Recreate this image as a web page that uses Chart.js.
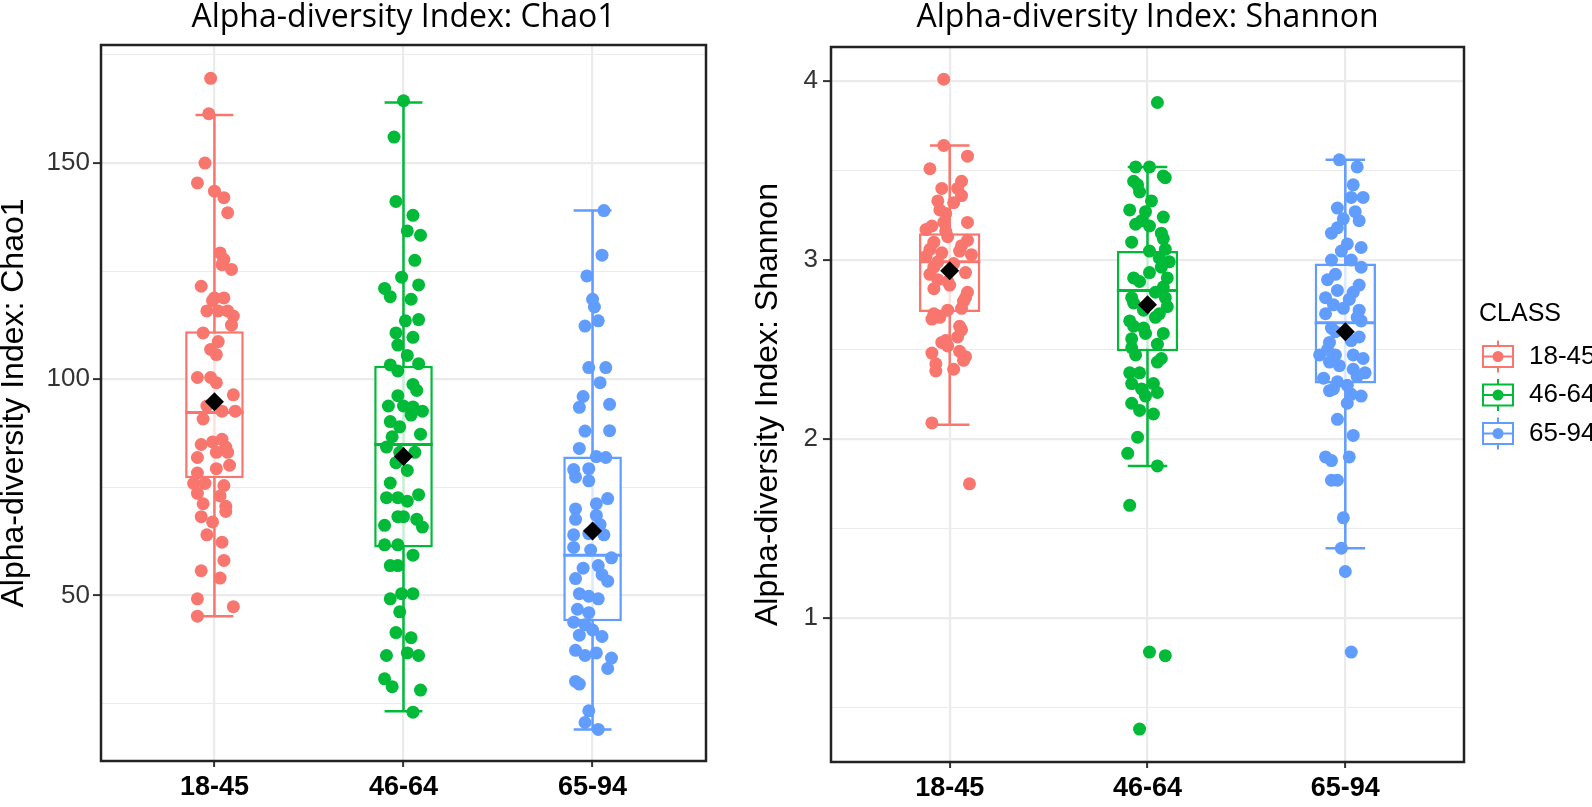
<!DOCTYPE html>
<html>
<head>
<meta charset="utf-8">
<script src="https://cdn.jsdelivr.net/npm/chart.js@4.4.1/dist/chart.umd.min.js"></script>
<style>
  html, body { margin: 0; padding: 0; background: #fff; }
  #wrap { position: relative; width: 1592px; height: 807px; overflow: hidden; }
  .panel { position: absolute; top: 0; height: 807px; }
</style>
</head>
<body>
<div id="wrap">
  <div class="panel" style="left:0;width:720px"><canvas id="chao"></canvas></div>
  <div class="panel" style="left:720px;width:872px"><canvas id="shannon"></canvas></div>
</div>
<script>
const groups = ['18-45', '46-64', '65-94']
const colors = ['#F8766D', '#00BA38', '#619CFF']

// Chao1 -- jittered samples (value + horizontal jitter in category units)
const chao1845 = [169.6,161.4,150,145.4,143.5,142,138.5,129.2,127.7,126.5,125.4,121.5,118.8,118.8,118.2,115.8,115.8,114.6,115.8,112.5,110.7,108.7,106.9,105.7,100.4,100.4,99.2,96.4,93.8,92.6,90.8,92.6,84.9,85.5,86.1,84.3,81.9,83.1,83.1,78.3,79.3,80.1,75.9,75.9,75.4,73.6,73,71.2,70.6,68.2,67,69.4,64,62.3,58.1,55.7,54,49.2,47.4,45.2]
const chaoJit1845 = [-0.02,-0.03,-0.05,-0.09,0,0.05,0.07,0.03,0.05,0.04,0.09,-0.07,0,0.05,-0.01,-0.04,0.07,0.1,0.02,0.09,-0.06,0.02,-0.02,0.01,-0.09,-0.02,0.01,0.1,-0.04,0.04,-0.06,0.11,-0.07,-0.01,0.04,0.06,-0.09,0.01,0.07,-0.09,0.01,0.08,-0.11,-0.05,0.05,-0.09,0.03,-0.06,0.06,-0.07,-0.01,0.06,-0.04,0.04,0.05,-0.07,0.03,-0.09,0.1,-0.09]
const chao4664 = [164.4,156,141.1,137.9,134.3,133.3,127.5,123.6,121.8,121,119.1,118.5,110.7,113.5,113.8,109.7,107.9,105.5,103.3,101.9,103.6,98.8,97.4,96.2,93.8,93.8,93.6,92.6,90.2,89,91.7,87.3,86.7,84.3,83.1,83.1,80.7,78.9,76,73.3,72.6,72.6,71.8,68.2,66.2,68.2,67.6,65.8,61.7,61.7,59.3,56.9,56.9,49.2,50.4,50.4,46.2,41.4,40.2,36.1,36.7,36.1,30.7,28.9,28.1,23]
const chaoJit4664 = [0,-0.05,-0.04,0.05,0.02,0.09,0.06,-0.01,0.08,-0.1,-0.07,0.04,-0.04,0.01,0.08,0.05,-0.03,0.02,-0.07,-0.03,0.08,0.05,0.07,-0.03,-0.08,0,0.05,0.1,-0.07,-0.02,0.04,0.09,-0.06,-0.09,-0.02,0.06,-0.04,0.02,-0.07,0.08,-0.09,-0.03,0.02,-0.03,-0.1,0,0.07,0.1,-0.1,-0.03,0.05,-0.07,-0.03,-0.07,-0.01,0.05,-0.02,-0.04,0.04,-0.09,0.02,0.08,-0.1,-0.06,0.09,0.05]
const chao6594 = [139,128.7,123.9,118.5,116.7,112.3,113.5,102.7,102.7,99.2,96,93.5,94.2,88,88.1,84,82.1,81.9,79.1,79.3,76.5,77.4,71.2,72.4,70,67.6,68.5,66.4,64,64.3,64,61.1,60.5,58.7,56.9,56.3,54.8,53.9,53.3,50.4,49.8,49.2,46.8,46,43.8,43.2,42,40.8,40.5,37.3,36.1,36.7,35.5,33.1,30.1,29.5,23.3,20.6,19]
const chaoJit6594 = [0.06,0.05,-0.03,0,0.01,-0.04,0.03,-0.02,0.07,0.04,-0.05,-0.07,0.09,-0.04,0.09,-0.07,0.02,0.07,-0.1,-0.02,-0.02,-0.09,0.02,0.08,-0.09,-0.09,0.02,0.04,-0.1,-0.02,0.06,-0.1,-0.01,0.1,0.03,-0.05,0.05,-0.09,0.08,-0.07,-0.02,0.03,-0.08,-0.02,-0.1,-0.04,0,-0.07,0.05,-0.09,-0.04,0.02,0.1,0.08,-0.09,-0.07,-0.02,-0.04,0.03]

// Chao1 -- box statistics per group
const chaoLow = [45.2, 23.2, 19]
const chaoQ1 = [77.1, 61.1, 44]
const chaoMedian = [92.3, 84.9, 59.3]
const chaoQ3 = [111.1, 103.1, 82.1]
const chaoHigh = [161.1, 164, 139]
const chaoMean = [94.8, 82.1, 64.9]
const chaoTicks = [25, 50, 75, 100, 125, 150, 175]

// Shannon -- jittered samples
const shan1845 = [4.01,3.64,3.58,3.51,3.40,3.40,3.44,3.28,3.32,3.19,3.21,3.21,3.10,3.13,3.11,3.06,3.04,3.05,2.96,2.98,2.93,2.89,2.88,2.82,2.79,2.70,2.72,2.73,2.67,2.63,2.57,2.54,2.48,2.52,2.49,2.44,2.42,2.39,2.09,1.75,3.17,3.16,3.08,3.02,2.99,3.03,2.92,2.86,2.84,2.77,2.68,2.61,2.55,2.46,2.38,3.36,3.26,3.33]
const shanJit1845 = [-0.03,-0.03,0.09,-0.1,-0.04,0.04,0.06,-0.05,0.02,-0.09,-0.03,0.09,-0.08,-0.01,0.09,-0.1,-0.04,0.05,-0.08,0.02,0.08,-0.06,-0.01,0.09,0.08,-0.08,-0.01,0.06,-0.09,0.05,0.04,-0.04,-0.09,-0.01,0.05,0.07,-0.07,0.02,-0.09,0.1,-0.12,-0.02,0.06,-0.12,-0.06,0.11,-0.1,0,-0.08,0.07,-0.05,0.06,-0.02,0.08,-0.07,0.06,-0.02,-0.06]
const shan4664 = [3.88,3.52,3.52,3.47,3.46,3.44,3.38,3.28,3.27,3.24,3.20,3.19,3.15,3.10,3.12,3.05,3.01,2.99,2.90,2.93,2.90,2.85,2.79,2.79,2.72,2.70,2.66,2.63,2.59,2.59,2.56,2.53,2.47,2.43,2.37,2.37,2.31,2.31,2.24,2.20,2.16,2.14,2.01,1.92,1.85,1.63,0.81,0.79,0.38,3.42,3.33,3.22,3.06,2.96,2.88,2.82,2.76,2.74,2.68,2.62,2.51,2.45,2.28,2.26]
const shanJit4664 = [0.05,-0.06,0.01,0.08,0.09,-0.07,-0.04,-0.09,-0.01,0.08,-0.06,0.01,0.07,-0.08,0.08,0.01,0.06,0.11,-0.07,0.01,0.1,0.08,-0.08,0.09,-0.02,0.06,-0.09,-0.07,0.08,-0.01,-0.08,0.05,-0.06,0.05,-0.09,-0.04,0.03,-0.08,-0.01,-0.08,-0.04,0.03,-0.05,-0.1,0.05,-0.09,0.01,0.09,-0.04,-0.05,0.02,-0.03,0.09,0.07,-0.04,0.04,-0.07,0.1,0.04,-0.02,-0.08,0.07,-0.03,0.05]
const shan6594 = [3.56,3.52,3.42,3.35,3.35,3.29,3.23,3.22,3.15,3.09,3.07,3.00,3.00,2.96,2.89,2.83,2.82,2.79,2.75,2.73,2.72,2.66,2.62,2.57,2.54,2.47,2.47,2.47,2.43,2.39,2.37,2.34,2.32,2.30,2.27,2.24,2.20,2.11,2.02,1.90,1.88,1.90,1.77,1.77,1.56,1.39,1.26,0.81,3.05,2.92,2.86,2.78,2.70,2.68,2.60,2.55,2.50,2.45,2.41,2.35,2.28,2.25,3.18,3.27]
const shanJit6594 = [-0.03,0.06,0.04,0.09,0.03,-0.04,-0.01,0.07,-0.07,0.01,0.08,-0.07,0.03,0.08,-0.09,-0.04,0.04,-0.1,-0.06,-0.01,0.07,0.08,-0.07,0.07,-0.08,-0.13,-0.05,0.04,-0.08,0.04,0.1,-0.11,-0.04,0.01,-0.08,0.08,0.01,-0.04,0.04,-0.1,-0.07,0.02,-0.07,-0.04,-0.01,-0.02,0,0.03,-0.02,-0.05,0.07,0.02,-0.1,0.06,-0.05,0.03,-0.09,0.09,-0.03,0.06,-0.06,0.03,-0.04,0.05]

// Shannon -- box statistics per group
const shanLow = [2.08, 1.85, 1.39]
const shanQ1 = [2.71, 2.49, 2.31]
const shanMedian = [2.99, 2.83, 2.65]
const shanQ3 = [3.15, 3.05, 2.98]
const shanHigh = [3.64, 3.52, 3.56]
const shanMean = [2.94, 2.75, 2.60]
const shanTicks = [0.5, 1, 1.5, 2, 2.5, 3, 3.5, 4]

const BOX_W = 0.31
const CAP_W = 0.2

// panel frame (theme_bw border)
const frame = {
  id: 'frame',
  afterDraw(chart) {
    const { ctx, chartArea: a } = chart
    ctx.save()
    ctx.strokeStyle = '#222'
    ctx.lineWidth = 2.5
    ctx.strokeRect(a.left, a.top, a.right - a.left, a.bottom - a.top)
    ctx.restore()
  },
}

// ggplot-like legend with boxplot keys
const classLegend = {
  id: 'classLegend',
  afterDraw(chart) {
    const { ctx, chartArea: a } = chart
    ctx.save()
    ctx.textBaseline = 'middle'
    ctx.fillStyle = '#000'
    ctx.font = '25px "Liberation Sans"'
    ctx.fillText('CLASS', a.right + 15, a.top + 267)
    groups.forEach((g, i) => {
      const cx = a.right + 34
      const cy = a.top + 309.5 + i * 38.5
      ctx.strokeStyle = colors[i]
      ctx.lineWidth = 2
      ctx.beginPath()
      ctx.moveTo(cx, cy - 16)
      ctx.lineTo(cx, cy + 16)
      ctx.stroke()
      ctx.fillStyle = '#fff'
      ctx.fillRect(cx - 15, cy - 10.5, 30, 21)
      ctx.strokeRect(cx - 15, cy - 10.5, 30, 21)
      ctx.beginPath()
      ctx.moveTo(cx - 15, cy)
      ctx.lineTo(cx + 15, cy)
      ctx.stroke()
      ctx.fillStyle = colors[i]
      ctx.beginPath()
      ctx.arc(cx, cy, 5.5, 0, Math.PI * 2)
      ctx.fill()
      ctx.fillStyle = '#000'
      ctx.font = '26px "Liberation Sans"'
      ctx.fillText(g, a.right + 65, cy)
    })
    ctx.restore()
  },
}

function boxplotChart(id, cfg) {
  const datasets = []
  groups.forEach((g, i) => {
    const c = i + 1
    // errorbar whiskers (drawn through the box)
    datasets.push({
      type: 'line',
      order: 4,
      data: [
        { x: c - CAP_W / 2, y: cfg.high[i] }, { x: c + CAP_W / 2, y: cfg.high[i] }, { x: c, y: null },
        { x: c, y: cfg.high[i] }, { x: c, y: cfg.low[i] }, { x: c, y: null },
        { x: c - CAP_W / 2, y: cfg.low[i] }, { x: c + CAP_W / 2, y: cfg.low[i] },
      ],
      borderColor: colors[i],
      borderWidth: 2.5,
      pointRadius: 0,
      spanGaps: false,
      fill: false,
    })
    // median
    datasets.push({
      type: 'line',
      order: 2,
      data: [{ x: c - BOX_W / 2, y: cfg.median[i] }, { x: c + BOX_W / 2, y: cfg.median[i] }],
      borderColor: colors[i],
      borderWidth: 3,
      pointRadius: 0,
      fill: false,
    })
    // jittered samples
    datasets.push({
      type: 'scatter',
      order: 1,
      data: cfg.values[i].map((v, k) => ({ x: c + cfg.jitter[i][k], y: v })),
      backgroundColor: colors[i],
      borderWidth: 0,
      pointRadius: 6.5,
      pointHoverRadius: 6.5,
    })
  })
  // boxes
  datasets.push({
    type: 'bar',
    order: 3,
    data: groups.map((g, i) => ({ x: i + 1, y: [cfg.q1[i], cfg.q3[i]] })),
    backgroundColor: 'rgba(255,255,255,0.78)',
    borderColor: colors,
    borderWidth: 2.5,
    borderSkipped: false,
    barPercentage: BOX_W,
    categoryPercentage: 1,
  })
  // means
  datasets.push({
    type: 'scatter',
    order: 0,
    data: groups.map((g, i) => ({ x: i + 1, y: cfg.mean[i] })),
    pointStyle: 'rectRot',
    pointRadius: 9.5,
    pointHoverRadius: 9.5,
    backgroundColor: '#000',
    borderWidth: 0,
  })

  const isMajor = v => cfg.major.includes(v)

  return new Chart(document.getElementById(id), {
    type: 'scatter',
    data: { datasets },
    options: {
      responsive: true,
      maintainAspectRatio: false,
      animation: false,
      events: [],
      layout: { padding: { left: 0, right: cfg.padRight, top: 0, bottom: 0 } },
      plugins: {
        legend: { display: false },
        tooltip: { enabled: false },
        title: {
          display: true,
          text: cfg.title,
          fullSize: false,
          color: '#000',
          font: { family: 'Open Sans', size: 32, weight: 'normal', lineHeight: 1.1 },
          padding: { top: 0, bottom: cfg.titlePad },
        },
      },
      scales: {
        x: {
          type: 'linear',
          min: 0.4,
          max: 3.6,
          offset: false,
          afterBuildTicks: ax => { ax.ticks = groups.map((g, i) => ({ value: i + 1 })) },
          afterFit: ax => { ax.height = cfg.xHeight },
          ticks: {
            callback: (v, i) => groups[i],
            color: '#000',
            font: { family: 'Liberation Sans', size: 27, weight: 'bold' },
            padding: 4,
            maxRotation: 0,
            autoSkip: false,
          },
          grid: { offset: false, color: '#ebebeb', lineWidth: 2.2, tickLength: 6, tickColor: '#333', tickWidth: 2 },
          border: { display: false },
        },
        y: {
          min: cfg.yMin,
          max: cfg.yMax,
          afterBuildTicks: ax => { ax.ticks = cfg.ticks.map(v => ({ value: v })) },
          afterFit: ax => { ax.width = cfg.yWidth },
          ticks: {
            callback: v => (isMajor(v) ? String(v) : ''),
            color: '#333',
            font: { family: 'Liberation Sans', size: 26 },
            padding: cfg.tickPad,
          },
          grid: {
            offset: false,
            color: '#ebebeb',
            lineWidth: c => (isMajor(c.tick.value) ? 2.2 : 1.1),
            tickLength: 8,
            tickWidth: 2,
            tickColor: c => (isMajor(c.tick.value) ? '#333' : 'rgba(0,0,0,0)'),
          },
          border: { display: false },
          title: {
            display: true,
            text: cfg.yTitle,
            color: '#000',
            font: { family: 'Liberation Sans', size: 32, lineHeight: 0.88 },
            padding: { top: cfg.yTitlePad, bottom: 0 },
          },
        },
      },
    },
    plugins: cfg.legend ? [frame, classLegend] : [frame],
  })
}

boxplotChart('chao', {
  title: 'Alpha-diversity Index: Chao1',
  yTitle: 'Alpha-diversity Index: Chao1',
  values: [chao1845, chao4664, chao6594],
  jitter: [chaoJit1845, chaoJit4664, chaoJit6594],
  low: chaoLow, q1: chaoQ1, median: chaoMedian, q3: chaoQ3, high: chaoHigh, mean: chaoMean,
  ticks: chaoTicks,
  major: [50, 100, 150],
  yMin: 11.7, yMax: 177.3,
  padRight: 14, titlePad: 9.8, xHeight: 46, yWidth: 101, yTitlePad: 0, tickPad: 3,
  legend: false,
})

boxplotChart('shannon', {
  title: 'Alpha-diversity Index: Shannon',
  yTitle: 'Alpha-diversity Index: Shannon',
  values: [shan1845, shan4664, shan6594],
  jitter: [shanJit1845, shanJit4664, shanJit6594],
  low: shanLow, q1: shanQ1, median: shanMedian, q3: shanQ3, high: shanHigh, mean: shanMean,
  ticks: shanTicks,
  major: [1, 2, 3, 4],
  yMin: 0.196, yMax: 4.19,
  padRight: 128, titlePad: 11.8, xHeight: 45, yWidth: 111, yTitlePad: 34.5, tickPad: 5,
  legend: true,
})
</script>
</body>
</html>
